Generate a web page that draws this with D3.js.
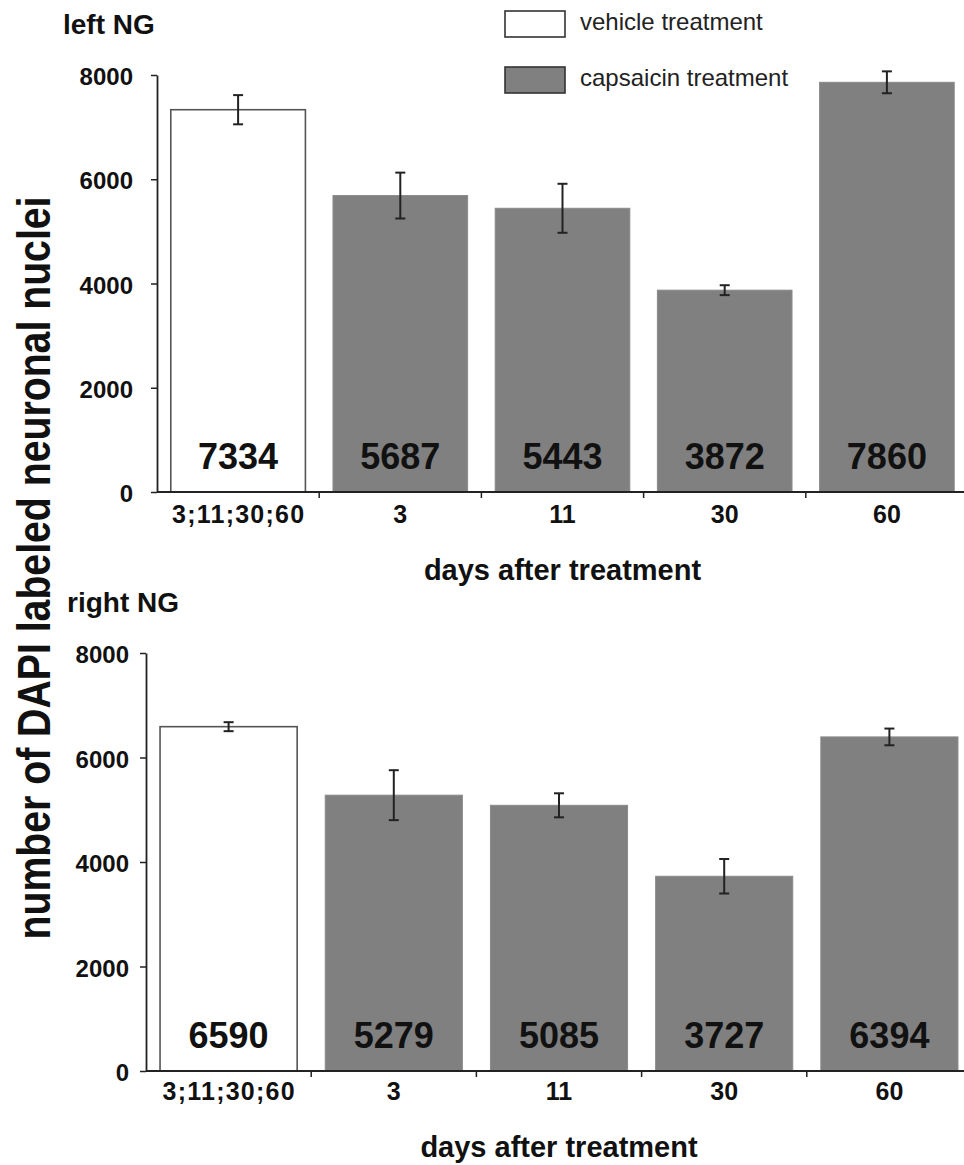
<!DOCTYPE html>
<html>
<head>
<meta charset="utf-8">
<script src="https://cdn.jsdelivr.net/npm/d3@7"></script>
<style>
  body { margin: 0; background: #fff; }
  svg { display: block; font-family: "Liberation Sans", Arial, sans-serif; }
</style>
</head>
<body>
<div id="chart"></div>
<script>
// days after treatment (first group is the vehicle controls, pooled)
const categories = ["3;11;30;60", "3", "11", "30", "60"];
const groups = ["vehicle", "capsaicin", "capsaicin", "capsaicin", "capsaicin"];

// left nodose ganglion
const leftMeans = [7334, 5687, 5443, 3872, 7860];
const leftErrors = [280, 440, 470, 95, 210];

// right nodose ganglion
const rightMeans = [6590, 5279, 5085, 3727, 6394];
const rightErrors = [86, 478, 230, 330, 160];

const yTicks = [0, 2000, 4000, 6000, 8000];
const legendLabels = ["vehicle treatment", "capsaicin treatment"];

const W = 964, H = 1165;
const svg = d3.select("#chart").append("svg")
  .attr("width", W).attr("height", H);

const fillFor = g => g === "vehicle" ? "#ffffff" : "#808080";
const strokeFor = g => g === "vehicle" ? "#555" : "#8a8a8a";

// one panel = one bar chart; dims tuned to the reference
function drawPanel(cfg) {
  const g = svg.append("g");

  const x = d3.scaleBand()
    .domain(categories)
    .range([cfg.x0, cfg.x1])
    .paddingInner(0.17)
    .paddingOuter(0.085);

  const y = d3.scaleLinear()
    .domain([0, 8000])
    .range([cfg.y0, cfg.yTop]);

  const rows = categories.map((c, i) => ({
    cat: c, group: groups[i], mean: cfg.means[i], err: cfg.errors[i]
  }));

  // bars
  g.selectAll(".bar").data(rows).enter()
    .append("rect")
    .attr("class", "bar")
    .attr("x", d => x(d.cat))
    .attr("width", x.bandwidth())
    .attr("y", d => y(d.mean))
    .attr("height", d => y(0) - y(d.mean))
    .attr("fill", d => fillFor(d.group))
    .attr("stroke", d => strokeFor(d.group))
    .attr("stroke-width", d => d.group === "vehicle" ? 1.6 : 1);

  // error bars
  const eb = g.selectAll(".err").data(rows).enter()
    .append("g").attr("class", "err")
    .attr("stroke", "#222").attr("stroke-width", 2);
  const cx = d => x(d.cat) + x.bandwidth() / 2;
  eb.append("line")
    .attr("x1", cx).attr("x2", cx)
    .attr("y1", d => y(d.mean + d.err))
    .attr("y2", d => y(d.mean - d.err));
  eb.append("line")
    .attr("x1", d => cx(d) - 5).attr("x2", d => cx(d) + 5)
    .attr("y1", d => y(d.mean + d.err)).attr("y2", d => y(d.mean + d.err));
  eb.append("line")
    .attr("x1", d => cx(d) - 5).attr("x2", d => cx(d) + 5)
    .attr("y1", d => y(d.mean - d.err)).attr("y2", d => y(d.mean - d.err));

  // value labels inside bars
  g.selectAll(".val").data(rows).enter()
    .append("text")
    .attr("class", "val")
    .attr("x", cx)
    .attr("y", y(0) - 23)
    .attr("text-anchor", "middle")
    .attr("font-size", 36)
    .attr("font-weight", "bold")
    .attr("fill", "#111")
    .text(d => d.mean);

  // y axis
  const yAxis = d3.axisLeft(y)
    .tickValues(yTicks)
    .tickFormat(d3.format("d"))
    .tickSize(6)
    .tickSizeOuter(0)
    .tickPadding(cfg.tickPad);
  const ya = g.append("g")
    .attr("transform", `translate(${cfg.x0},0)`)
    .call(yAxis);
  ya.select(".domain").attr("stroke", "#222").attr("stroke-width", 1.8);
  ya.selectAll(".tick line").attr("stroke", "#222").attr("stroke-width", 1.5);
  ya.selectAll(".tick text")
    .attr("font-family", "Liberation Sans, Arial, sans-serif")
    .attr("font-size", 24)
    .attr("font-weight", "bold")
    .attr("fill", "#111")
    .attr("dy", "0.4em");

  // x axis line + separators between groups
  g.append("line")
    .attr("x1", cfg.x0).attr("x2", W)
    .attr("y1", y(0)).attr("y2", y(0))
    .attr("stroke", "#222").attr("stroke-width", 2.2);
  const step = x.step();
  g.selectAll(".xsep").data(categories.slice(1)).enter()
    .append("line")
    .attr("class", "xsep")
    .attr("x1", d => x(d) - step * 0.085).attr("x2", d => x(d) - step * 0.085)
    .attr("y1", y(0)).attr("y2", y(0) + 6)
    .attr("stroke", "#222").attr("stroke-width", 1.5);

  // x tick labels
  g.selectAll(".xlab").data(categories).enter()
    .append("text")
    .attr("class", "xlab")
    .attr("x", d => x(d) + x.bandwidth() / 2)
    .attr("y", y(0) + cfg.xLabOff)
    .attr("text-anchor", "middle")
    .attr("font-size", 25)
    .attr("font-weight", "bold")
    .attr("fill", "#111")
    .each(function (d, i) {
      if (i === 0) d3.select(this).attr("textLength", 132).attr("lengthAdjust", "spacing");
    })
    .text(d => d);

  // x axis title
  g.append("text")
    .attr("x", (cfg.x0 + cfg.x1) / 2)
    .attr("y", cfg.xTitleY)
    .attr("text-anchor", "middle")
    .attr("font-size", 29)
    .attr("font-weight", "bold")
    .attr("fill", "#111")
    .text("days after treatment");

  // panel title
  g.append("text")
    .attr("x", cfg.titleX)
    .attr("y", cfg.titleY)
    .attr("font-size", 28)
    .attr("font-weight", "bold")
    .attr("fill", "#111")
    .text(cfg.title);
}

drawPanel({
  title: "left NG", titleX: 63, titleY: 34,
  means: leftMeans, errors: leftErrors,
  x0: 157, x1: 968, y0: 492, yTop: 75,
  tickPad: 18, xLabOff: 31, xTitleY: 580
});

drawPanel({
  title: "right NG", titleX: 67, titleY: 612,
  means: rightMeans, errors: rightErrors,
  x0: 146, x1: 972, y0: 1071, yTop: 653,
  tickPad: 11, xLabOff: 29, xTitleY: 1157
});

// legend
const legend = svg.append("g");
legendLabels.forEach((lab, i) => {
  const ly = 11 + i * 56;
  legend.append("rect")
    .attr("x", 505).attr("y", ly)
    .attr("width", 60).attr("height", 26)
    .attr("fill", i === 0 ? "#fff" : "#808080")
    .attr("stroke", "#333").attr("stroke-width", 1.6);
  legend.append("text")
    .attr("x", 580).attr("y", ly + 19)
    .attr("font-size", 24)
    .attr("fill", "#222")
    .text(lab);
});

// shared y axis title
svg.append("text")
  .attr("transform", "translate(50,568) rotate(-90)")
  .attr("text-anchor", "middle")
  .attr("font-size", 46)
  .attr("font-weight", "bold")
  .attr("fill", "#111")
  .attr("textLength", 743)
  .attr("lengthAdjust", "spacingAndGlyphs")
  .text("number of DAPI labeled neuronal nuclei");
</script>
</body>
</html>
